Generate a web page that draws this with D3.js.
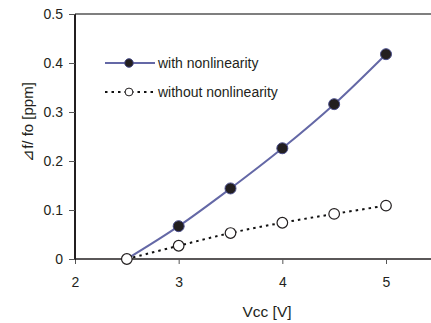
<!DOCTYPE html>
<html>
<head>
<meta charset="utf-8">
<style>
	body{ margin:0; background:#fff; }
	svg{ display:block; font-family:"Liberation Sans", Arial, sans-serif; }
</style>
<script src="https://cdn.jsdelivr.net/npm/d3@7"></script>
</head>
<body>
<svg width="431" height="323"></svg>
<script>
var vcc = [2.5, 3, 3.5, 4, 4.5, 5];
var withNL = [0, 0.067, 0.144, 0.226, 0.316, 0.418];
var withoutNL = [0, 0.027, 0.053, 0.074, 0.092, 0.109];
var xTicks = [2, 3, 4, 5];
var yTicks = [0, 0.1, 0.2, 0.3, 0.4, 0.5];
var yTickLabels = ["0", "0.1", "0.2", "0.3", "0.4", "0.5"];

var svg = d3.select("svg");
var x = d3.scaleLinear().domain([2, 5]).range([75, 386]);
var y = d3.scaleLinear().domain([0, 0.5]).range([259, 14]);

// top border
svg.append("line")
	.attr("x1", 75).attr("x2", 431)
	.attr("y1", y(0.5)).attr("y2", y(0.5))
	.attr("stroke", "#555").attr("stroke-width", 1.5);

var xAxis = svg.append("g")
	.attr("transform", "translate(0," + y(0) + ")")
	.call(d3.axisBottom(x).tickValues(xTicks).tickFormat(d3.format("d")).tickSize(5).tickPadding(13));
xAxis.attr("font-size", 14).attr("font-family", null);
xAxis.select(".domain").attr("d", "M75,0H431").attr("stroke", "#231f20").attr("stroke-width", 1.6);
xAxis.selectAll(".tick line").attr("stroke", "#555");
xAxis.selectAll(".tick text").attr("fill", "#231f20");

var yAxis = svg.append("g")
	.attr("transform", "translate(75,0)")
	.call(d3.axisLeft(y).tickValues(yTicks).tickFormat(function(d, i){ return yTickLabels[i]; }).tickSize(6).tickPadding(6));
yAxis.attr("font-size", 14).attr("font-family", null);
yAxis.select(".domain").attr("d", "M0,14V260").attr("stroke", "#231f20").attr("stroke-width", 2);
yAxis.selectAll(".tick line").attr("stroke", "#555");
yAxis.selectAll(".tick text").attr("fill", "#231f20");

// axis titles
svg.append("text")
	.attr("x", 267).attr("y", 317)
	.attr("text-anchor", "middle")
	.attr("font-size", 15.5).attr("fill", "#231f20")
	.text("Vcc [V]");
svg.append("text")
	.attr("transform", "translate(33,122) rotate(-90)")
	.attr("text-anchor", "middle")
	.attr("font-size", 15).attr("fill", "#231f20")
	.text("⊿f/ fo [ppm]");

var pts1 = vcc.map(function(v, i){ return [v, withNL[i]]; });
var pts2 = vcc.map(function(v, i){ return [v, withoutNL[i]]; });

var line = d3.line()
	.x(function(d){ return x(d[0]); })
	.y(function(d){ return y(d[1]); })
	.curve(d3.curveCatmullRom);

svg.append("path").datum(pts1)
	.attr("d", line)
	.attr("fill", "none").attr("stroke", "#6468a6").attr("stroke-width", 2);

svg.append("path").datum(pts2)
	.attr("d", line)
	.attr("fill", "none").attr("stroke", "#111").attr("stroke-width", 2)
	.attr("stroke-dasharray", "2.5,4");

svg.selectAll(".dot1").data(pts1.slice(1)).enter().append("circle")
	.attr("cx", function(d){ return x(d[0]); })
	.attr("cy", function(d){ return y(d[1]); })
	.attr("r", 5.5)
	.attr("fill", "#231f20").attr("stroke", "#4a4e8a").attr("stroke-width", 1);

svg.selectAll(".dot2").data(pts2).enter().append("circle")
	.attr("cx", function(d){ return x(d[0]); })
	.attr("cy", function(d){ return y(d[1]); })
	.attr("r", 5.3)
	.attr("fill", "#fff").attr("stroke", "#231f20").attr("stroke-width", 1.2);

// legend
var leg = svg.append("g");
leg.append("line").attr("x1", 105).attr("x2", 155).attr("y1", 63).attr("y2", 63)
	.attr("stroke", "#6468a6").attr("stroke-width", 2);
leg.append("circle").attr("cx", 129).attr("cy", 63).attr("r", 4.3)
	.attr("fill", "#231f20").attr("stroke", "#4a4e8a");
leg.append("text").attr("x", 158).attr("y", 68).attr("font-size", 14).attr("fill", "#231f20")
	.text("with nonlinearity");
leg.append("line").attr("x1", 105).attr("x2", 155).attr("y1", 92).attr("y2", 92)
	.attr("stroke", "#111").attr("stroke-width", 2).attr("stroke-dasharray", "2.5,4");
leg.append("circle").attr("cx", 129).attr("cy", 92).attr("r", 3.9)
	.attr("fill", "#fff").attr("stroke", "#231f20");
leg.append("text").attr("x", 158).attr("y", 97).attr("font-size", 14).attr("fill", "#231f20")
	.text("without nonlinearity");
</script>
</body>
</html>
